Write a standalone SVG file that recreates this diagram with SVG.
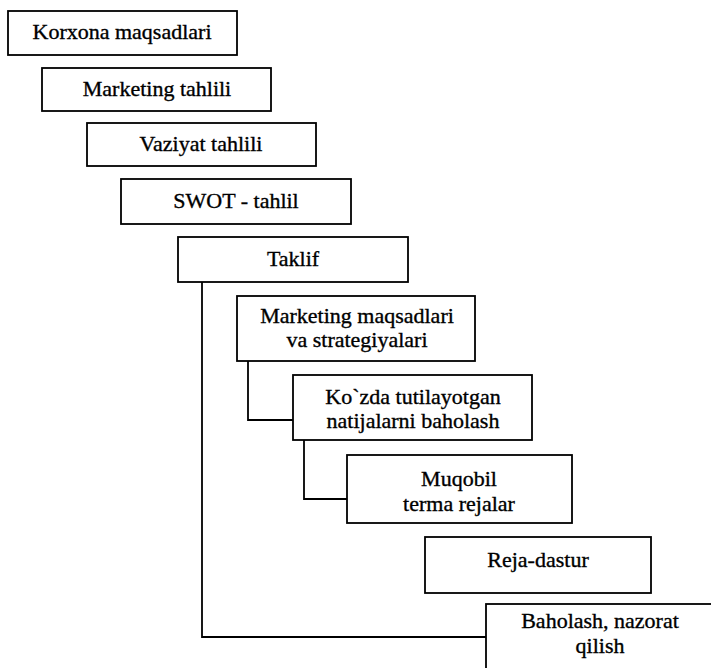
<svg xmlns="http://www.w3.org/2000/svg" width="711" height="668" viewBox="0 0 711 668">
<style>
.box{fill:#fff;stroke:#000;stroke-width:1.8}
.t{font-family:'Liberation Serif';font-size:22px;fill:#000;stroke:#000;stroke-width:0.35;text-anchor:middle}
.c{fill:none;stroke:#000;stroke-width:1.8}
</style>
<rect width="711" height="668" fill="#fff"/>
<g id="connectors">
<path class="c" d="M202,282 V637 H486"/>
<path class="c" d="M248,361 V420 H293"/>
<path class="c" d="M304,440 V499 H347"/>
</g>
<g id="n1"><rect class="box" x="8" y="11" width="229" height="44"/><text class="t" x="122" y="39">Korxona maqsadlari</text></g>
<g id="n2"><rect class="box" x="42" y="68" width="229" height="43"/><text class="t" x="157" y="96">Marketing tahlili</text></g>
<g id="n3"><rect class="box" x="87" y="123" width="229" height="43"/><text class="t" x="201" y="151">Vaziyat tahlili</text></g>
<g id="n4"><rect class="box" x="121" y="179" width="230" height="45"/><text class="t" x="236" y="208">SWOT - tahlil</text></g>
<g id="n5"><rect class="box" x="178" y="237" width="230" height="45"/><text class="t" x="293" y="266">Taklif</text></g>
<g id="n6"><rect class="box" x="237" y="296" width="238" height="65"/><text class="t" x="357" y="323">Marketing maqsadlari</text><text class="t" x="357" y="347">va strategiyalari</text></g>
<g id="n7"><rect class="box" x="293" y="375" width="239" height="65"/><text class="t" x="413" y="404">Ko`zda tutilayotgan</text><text class="t" x="413" y="428">natijalarni baholash</text></g>
<g id="n8"><rect class="box" x="347" y="455" width="225" height="68"/><text class="t" x="459" y="486">Muqobil</text><text class="t" x="459" y="511">terma rejalar</text></g>
<g id="n9"><rect class="box" x="425" y="537" width="226" height="56"/><text class="t" x="538" y="567">Reja-dastur</text></g>
<g id="n10"><rect class="box" x="486" y="604" width="240" height="80"/><text class="t" x="600" y="628">Baholash, nazorat</text><text class="t" x="600" y="653">qilish</text></g>
</svg>
